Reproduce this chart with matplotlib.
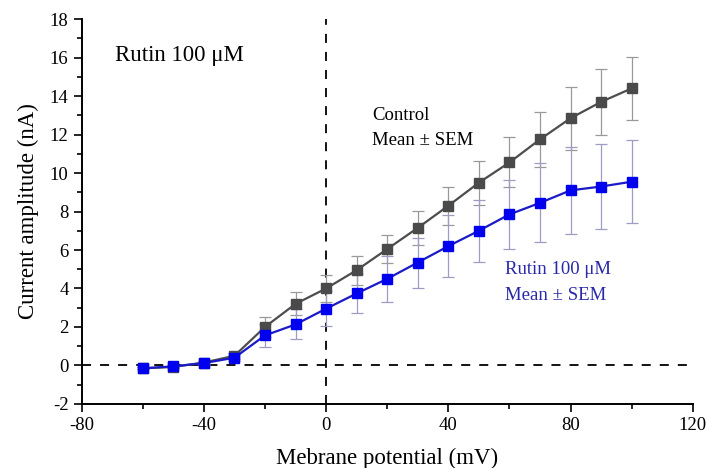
import numpy as np
import matplotlib
matplotlib.use('Agg')
import matplotlib.pyplot as plt
from matplotlib.ticker import MultipleLocator

plt.rcParams['font.family'] = ['Liberation Serif', 'DejaVu Serif']
plt.rcParams['axes.unicode_minus'] = False

voltage = [-60, -50, -40, -30, -20, -10, 0, 10, 20, 30, 40, 50, 60, 70, 80, 90, 100]
control = [-0.15, -0.08, 0.15, 0.5, 2.0, 3.2, 4.0, 4.95, 6.05, 7.15, 8.3, 9.5, 10.55, 11.75, 12.85, 13.7, 14.4]
control_sem = [0.05, 0.05, 0.1, 0.15, 0.5, 0.6, 0.7, 0.75, 0.75, 0.9, 1.0, 1.15, 1.3, 1.45, 1.65, 1.7, 1.65]
rutin = [-0.15, -0.05, 0.12, 0.4, 1.56, 2.13, 2.95, 3.74, 4.5, 5.35, 6.2, 7.0, 7.85, 8.45, 9.1, 9.3, 9.55]
rutin_sem = [0.05, 0.05, 0.1, 0.15, 0.6, 0.78, 0.9, 1.0, 1.2, 1.3, 1.6, 1.6, 1.8, 2.05, 2.25, 2.2, 2.15]

fig = plt.figure(figsize=(7.08, 4.68), dpi=100)
ax = fig.add_axes([0.1154, 0.137, 0.863, 0.822])

ax.axhline(0, color='black', ls=(0, (5, 5)), lw=1.3, zorder=1)
ax.axvline(0, color='black', ls=(0, (5, 5)), lw=1.3, zorder=1)

ax.errorbar(voltage, control, yerr=control_sem, fmt='none', ecolor='#999999',
            elinewidth=0.9, capsize=4, capthick=0.9, zorder=2)
ax.errorbar(voltage, rutin, yerr=rutin_sem, fmt='none', ecolor='#9c9cc4',
            elinewidth=0.9, capsize=4, capthick=0.9, zorder=2)
ax.plot(voltage, control, color='#4d4d4d', lw=1.6, marker='s', ms=7.5,
        mfc='#4a4a4a', mec='#4a4a4a', zorder=3)
ax.plot(voltage, rutin, color='#1a1ac8', lw=1.6, marker='s', ms=7.5,
        mfc='#0000ee', mec='#0000ee', zorder=4)

ax.set_xlim(-80, 120)
ax.set_ylim(-2, 18)
ax.xaxis.set_major_locator(MultipleLocator(40))
ax.xaxis.set_minor_locator(MultipleLocator(20))
ax.yaxis.set_major_locator(MultipleLocator(2))
ax.yaxis.set_minor_locator(MultipleLocator(1))
ax.tick_params(which='major', direction='out', length=6, width=1.2, labelsize=13.5)
ax.tick_params(which='minor', direction='out', length=3.5, width=1.2)
for s in ['top', 'right']:
    ax.spines[s].set_visible(False)
for s in ['left', 'bottom']:
    ax.spines[s].set_linewidth(1.4)

ax.set_xlabel('Mebrane potential (mV)', fontsize=16.5, labelpad=10)
ax.set_ylabel('Current amplitude (nA)', fontsize=16.5, labelpad=8)

ax.text(-69, 16.1, 'Rutin 100 \u03bcM', fontsize=16.5, va='center')
ax.text(15, 13.0, 'Control', fontsize=13.5, va='center')
ax.text(15, 11.7, 'Mean \u00b1 SEM', fontsize=13.5, va='center')
ax.text(58.5, 5.0, 'Rutin 100 \u03bcM', fontsize=13.5, va='center', color='#2828a8')
ax.text(58.5, 3.66, 'Mean \u00b1 SEM', fontsize=13.5, va='center', color='#2828a8')

plt.savefig('out.png', dpi=100)
